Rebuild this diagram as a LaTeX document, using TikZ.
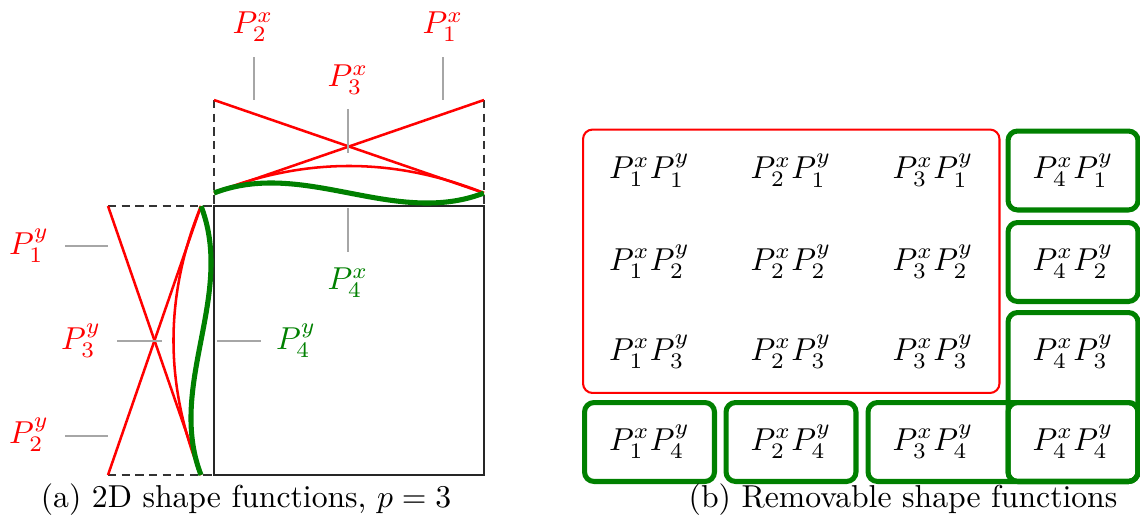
\documentclass[tikz,border=0pt]{standalone}
\usetikzlibrary{calc}
\definecolor{dkgreen}{rgb}{0,0.5,0}
\begin{document}
\begin{tikzpicture}[x=0.3155pt,y=-0.3155pt,
  framesq/.style={draw=black!85,line width=0.45pt},
  guide/.style={draw=black!80,line width=0.45pt,dash pattern=on 2.6pt off 1.7pt},
  tickln/.style={draw=black!35,line width=0.42pt},
  redc/.style={draw=red,line width=0.8pt},
  grnc/.style={draw=dkgreen,line width=1.6pt},
  redlbl/.style={text=red,inner sep=0pt},
  grnlbl/.style={text=dkgreen,inner sep=0pt},
  cell/.style={minimum width=41pt,minimum height=24.9pt,inner sep=0pt,outer sep=0pt},
  gbox/.style={draw=dkgreen,line width=1.6pt,rounded corners=3pt},
  rbox/.style={draw=red,line width=0.65pt,rounded corners=3pt}]
\useasboundingbox (0,0) rectangle (1140,527);

% ---------- (a) ----------
\coordinate (xL0) at (214,193); \coordinate (xR0) at (484,193);
\coordinate (xL1) at (214,100); \coordinate (xR1) at (484,100);
\coordinate (yB0) at (201,475); \coordinate (yT0) at (201,206);
\coordinate (yB1) at (108,475); \coordinate (yT1) at (108,206);
\coordinate (sqA) at (214,206); \coordinate (sqB) at (484,475);
\coordinate (sqC) at (214,475); \coordinate (sqD) at (484,206);

\draw[framesq] (sqA) rectangle (sqB);
\draw[guide] (xL1) -- (sqA);
\draw[guide] (xR1) -- (sqD);
\draw[guide] (yT1) -- (sqA);
\draw[guide] (yB1) -- (sqC);

\draw[redc] (xL1) -- (xR0);
\draw[redc] (xR1) -- (xL0);
\draw[redc] (yT1) -- (yB0);
\draw[redc] (yB1) -- (yT0);
\draw[redc] plot[domain=0:1,samples=60,smooth] ({214+270*\x},{193-108*\x*(1-\x)});
\draw[redc] plot[domain=0:1,samples=60,smooth] ({201-110*\x*(1-\x)},{475-269*\x});
\draw[grnc] plot[domain=0:1,samples=60,smooth] ({214+270*\x},{193-104*\x*(1-\x)*(1-2*\x)});
\draw[grnc] plot[domain=0:1,samples=60,smooth] ({201-104*\x*(1-\x)*(1-2*\x)},{475-269*\x});

\node[redlbl] (l2x) at (253,27) {$P_2^x$};
\node[redlbl] (l1x) at (443,27) {$P_1^x$};
\node[redlbl] (l3x) at (348,80) {$P_3^x$};
\node[grnlbl] (l4x) at (348,283) {$P_4^x$};
\node[redlbl] (l1y) at (29,246) {$P_1^y$};
\node[redlbl] (l3y) at (81,341) {$P_3^y$};
\node[redlbl] (l2y) at (29,435) {$P_2^y$};
\node[grnlbl] (l4y) at (296,341) {$P_4^y$};

\coordinate (t2xa) at (254,57);  \coordinate (t2xb) at (254,100);
\coordinate (t1xa) at (443,57);  \coordinate (t1xb) at (443,100);
\coordinate (t3xa) at (348,109); \coordinate (t3xb) at (348,153);
\coordinate (t4xa) at (348,208); \coordinate (t4xb) at (348,252);
\coordinate (t1ya) at (65,246);  \coordinate (t1yb) at (108,246);
\coordinate (t2ya) at (65,436);  \coordinate (t2yb) at (108,436);
\coordinate (t3ya) at (117,341); \coordinate (t3yb) at (162,341);
\coordinate (t4ya) at (217,341); \coordinate (t4yb) at (261,341);
\draw[tickln] (t2xa) -- (t2xb);
\draw[tickln] (t1xa) -- (t1xb);
\draw[tickln] (t3xa) -- (t3xb);
\draw[tickln] (t4xa) -- (t4xb);
\draw[tickln] (t1ya) -- (t1yb);
\draw[tickln] (t2ya) -- (t2yb);
\draw[tickln] (t3ya) -- (t3yb);
\draw[tickln] (t4ya) -- (t4yb);

\node (capa) at (246,500) {(a) 2D shape functions, $p=3$};

% ---------- (b) ----------
\node[cell] (c11) at (649.5,170.5) {$P_1^xP_1^y$};
\node[cell] (c21) at (791,170.5)   {$P_2^xP_1^y$};
\node[cell] (c31) at (933,170.5)   {$P_3^xP_1^y$};
\node[cell,gbox] (c41) at (1073,170.5) {$P_4^xP_1^y$};
\node[cell] (c12) at (649.5,262) {$P_1^xP_2^y$};
\node[cell] (c22) at (791,262)   {$P_2^xP_2^y$};
\node[cell] (c32) at (933,262)   {$P_3^xP_2^y$};
\node[cell,gbox] (c42) at (1073,262) {$P_4^xP_2^y$};
\node[cell] (c13) at (649.5,352) {$P_1^xP_3^y$};
\node[cell] (c23) at (791,352)   {$P_2^xP_3^y$};
\node[cell] (c33) at (933,352)   {$P_3^xP_3^y$};
\node[cell] (c43) at (1073,352)  {$P_4^xP_3^y$};
\node[cell,gbox] (c14) at (649.5,442) {$P_1^xP_4^y$};
\node[cell,gbox] (c24) at (791,442)   {$P_2^xP_4^y$};
\node[cell] (c34) at (933,442)   {$P_3^xP_4^y$};
\node[cell,gbox] (c44) at (1073,442) {$P_4^xP_4^y$};

\draw[rbox] ($(c11.north west)+(-1.5,-1.5)$) rectangle ($(c33.south east)+(1.5,1.5)$);
\draw[gbox] (c43.north west) rectangle (c44.south east);
\draw[gbox] (c34.north west) rectangle (c44.south east);

\node (capb) at (903,500) {(b) Removable shape functions};
\end{tikzpicture}
\end{document}
